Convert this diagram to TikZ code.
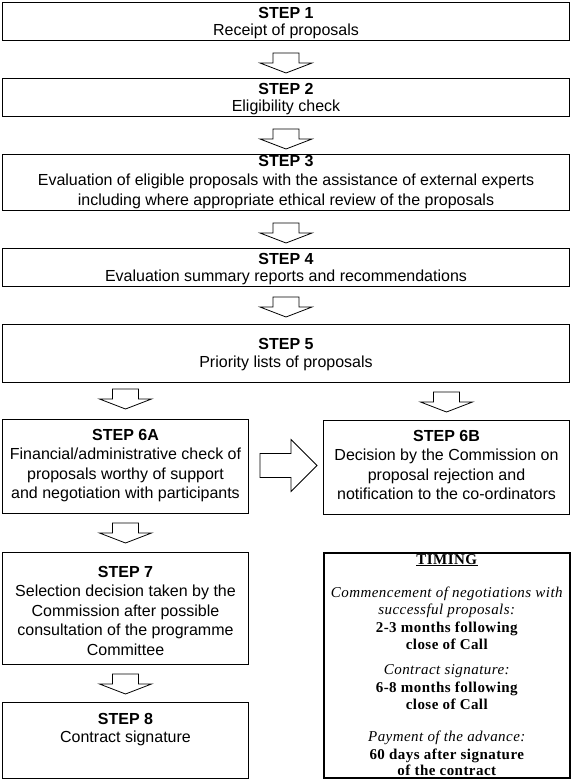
\documentclass[tikz,border=0pt]{standalone}
\usepackage{fontspec}
\setmainfont{Liberation Sans}
\newfontfamily\timingfont[LetterSpace=3]{Liberation Serif}
\usetikzlibrary{calc}
\begin{document}
\begin{tikzpicture}[x=1pt,y=-1pt,
  box/.style={draw, line width=1pt, fill=white, inner sep=0pt, anchor=north west},
  tbox/.style={draw, line width=2pt, fill=white, inner sep=0pt, anchor=north west},
  txt/.style={align=center, inner sep=0pt, font=\fontsize{16}{19.5}\selectfont},
  txtb/.style={align=center, inner sep=0pt, font=\fontsize{16}{17.5}\selectfont},
  ttxt/.style={align=center, inner sep=0pt, anchor=north, font=\timingfont\fontsize{15}{17.5}\selectfont},
  arrowline/.style={draw, line width=0.8pt, fill=white, line join=miter},
  downarr/.pic={\path[arrowline] (-13,0) -- (13,0) -- (13,10) -- (26,10) -- (0,20) -- (-26,10) -- (-13,10) -- cycle;},
  rightarr/.pic={\path[arrowline] (0,-12) -- (31,-12) -- (31,-26) -- (57,0) -- (31,26) -- (31,12) -- (0,12) -- cycle;}
]
\useasboundingbox (0,0) rectangle (571,780);
\fill[white] (0,0) rectangle (571,780);

% boxes
\node[box, minimum width=567pt, minimum height=38pt] (s1) at (2,2) {};
\node[box, minimum width=567pt, minimum height=38pt] (s2) at (2,78) {};
\node[box, minimum width=567pt, minimum height=56pt] (s3) at (2,154) {};
\node[box, minimum width=567pt, minimum height=38pt] (s4) at (2,248) {};
\node[box, minimum width=567pt, minimum height=58pt] (s5) at (2,324) {};
\node[box, minimum width=246pt, minimum height=94pt] (s6a) at (2,419) {};
\node[box, minimum width=246pt, minimum height=94pt] (s6b) at (323,420) {};
\node[box, minimum width=246pt, minimum height=112pt] (s7) at (2,552) {};
\node[box, minimum width=246pt, minimum height=76pt] (s8) at (2,702) {};
\node[tbox, minimum width=246pt, minimum height=225pt] (tim) at (323,552) {};

% texts
\node[txtb] (t1) at ($(s1.center)+(0,1.5)$) {\textbf{STEP 1}\\Receipt of proposals};
\node[txtb] (t2) at ($(s2.center)+(0,1.5)$) {\textbf{STEP 2}\\Eligibility check};
\node[txt] (t3) at ($(s3.center)+(0,-0.5)$) {\textbf{STEP 3}\\Evaluation of eligible proposals with the assistance of external experts\\including where appropriate ethical review of the proposals};
\node[txtb] (t4) at ($(s4.center)+(0,1.5)$) {\textbf{STEP 4}\\Evaluation summary reports and recommendations};
\node[txtb] (t5) at ($(s5.center)+(0,1)$) {\textbf{STEP 5}\\Priority lists of proposals};
\node[txt] (t6a) at ($(s6a.center)+(0,-1)$) {\textbf{STEP 6A}\\Financial/administrative check of\\proposals worthy of support\\and negotiation with participants};
\node[txt] (t6b) at ($(s6b.center)+(0,-2.5)$) {\textbf{STEP 6B}\\Decision by the Commission on\\proposal rejection and\\notification to the co-ordinators};
\node[txt] (t7) at ($(s7.center)+(0,2)$) {\textbf{STEP 7}\\Selection decision taken by the\\Commission after possible\\consultation of the programme\\Committee};
\node[txtb] (t8) at ($(s8.center)+(0,-11)$) {\textbf{STEP 8}\\Contract signature};

\node[ttxt] (tt) at ($(tim.north)+(0,2)$) {\underline{\textbf{TIMING}}\\[15.5pt]
\textit{Commencement of negotiations with}\\
\textit{successful proposals:}\\
\textbf{2-3 months following}\\
\textbf{close of Call}\\[7.5pt]
\textit{Contract signature:}\\
\textbf{6-8 months following}\\
\textbf{close of Call}\\[14.5pt]
\textit{Payment of the advance:}\\
\textbf{60 days after signature}\\[-1pt]
\textbf{of the contract}};

% block arrows
\pic at ($(s1.south)+(0,12)$) {downarr};
\pic at ($(s2.south)+(0,12)$) {downarr};
\pic at ($(s3.south)+(0,12)$) {downarr};
\pic at ($(s4.south)+(0,10)$) {downarr};
\pic at ($(s5.south -| s6a.north)+(0,6)$) {downarr};
\pic at ($(s5.south -| s6b.north)+(0,9)$) {downarr};
\pic at ($(s6a.south)+(0,9)$) {downarr};
\pic at ($(s7.south)+(0,9)$) {downarr};
\pic at ($(s6a.east)+(11,-1)$) {rightarr};
\end{tikzpicture}
\end{document}
